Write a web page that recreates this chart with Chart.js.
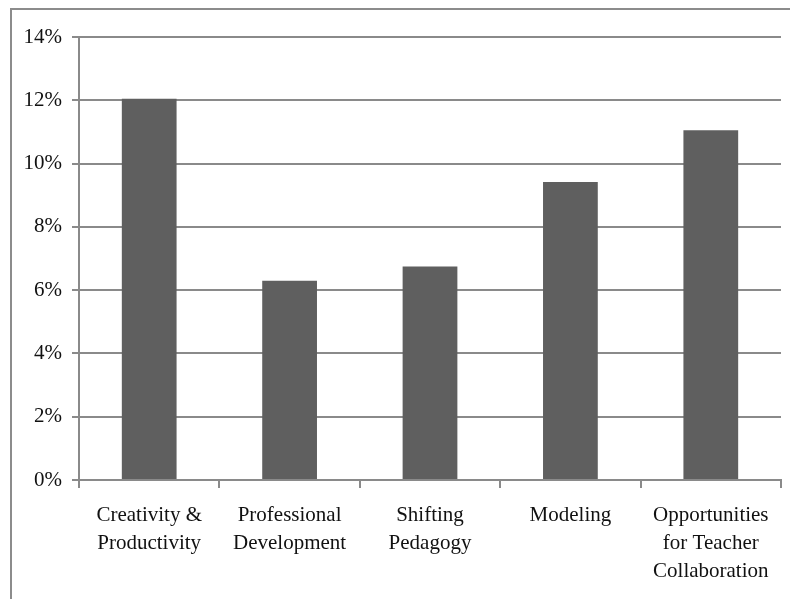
<!DOCTYPE html>
<html>
<head>
<meta charset="utf-8">
<script src="https://cdn.jsdelivr.net/npm/chart.js@4/dist/chart.umd.min.js"></script>
<style>
    html, body { margin: 0; padding: 0; background: #fff; overflow: hidden; }
    .frame { position: absolute; left: 10px; top: 8px; width: 820px; height: 640px; border: 2px solid #8c8c8c; }
    .wrap { position: absolute; left: 0; top: 0; width: 790px; height: 599px; }
</style>
</head>
<body>
<div class="frame"></div>
<div class="wrap"><canvas id="barChart" width="790" height="599"></canvas></div>
<script>
const categories = [
    ['Creativity &', 'Productivity'],
    ['Professional', 'Development'],
    ['Shifting', 'Pedagogy'],
    'Modeling',
    ['Opportunities', 'for Teacher', 'Collaboration']
];
const shares = [12.05, 6.3, 6.75, 9.42, 11.05];
const yTicks = [0, 2, 4, 6, 8, 10, 12, 14];

const THEME = {
    bar: '#5f5f5f',
    grid: '#8a8a8a',
    text: '#111111',
    font: "'Liberation Serif', 'Times New Roman', serif"
};

const ctx = document.getElementById('barChart').getContext('2d');
new Chart(ctx, {
    type: 'bar',
    data: {
        labels: categories,
        datasets: [{
            data: shares,
            backgroundColor: THEME.bar,
            borderWidth: 0,
            categoryPercentage: 1,
            barPercentage: 0.39
        }]
    },
    options: {
        responsive: false,
        animation: false,
        layout: { padding: { top: 37, right: 9, left: 0, bottom: 0 } },
        plugins: { legend: { display: false }, tooltip: { enabled: false } },
        scales: {
            x: {
                grid: { offset: true, drawOnChartArea: false, color: THEME.grid, lineWidth: 2, tickLength: 8 },
                border: { color: THEME.grid, width: 2 },
                ticks: { color: THEME.text, font: { family: THEME.font, size: 21, lineHeight: 1.34 }, padding: 13, maxRotation: 0, autoSkip: false },
                afterFit: s => { s.height = 119; }
            },
            y: {
                min: 0,
                max: 14,
                afterBuildTicks: s => { s.ticks = yTicks.map(v => ({ value: v })); },
                grid: { color: THEME.grid, lineWidth: 2, tickLength: 7 },
                border: { color: THEME.grid, width: 2 },
                ticks: { color: THEME.text, font: { family: THEME.font, size: 21 }, padding: 10, callback: v => v + '%' },
                afterFit: s => { s.width = 79; }
            }
        }
    }
});
</script>
</body>
</html>
